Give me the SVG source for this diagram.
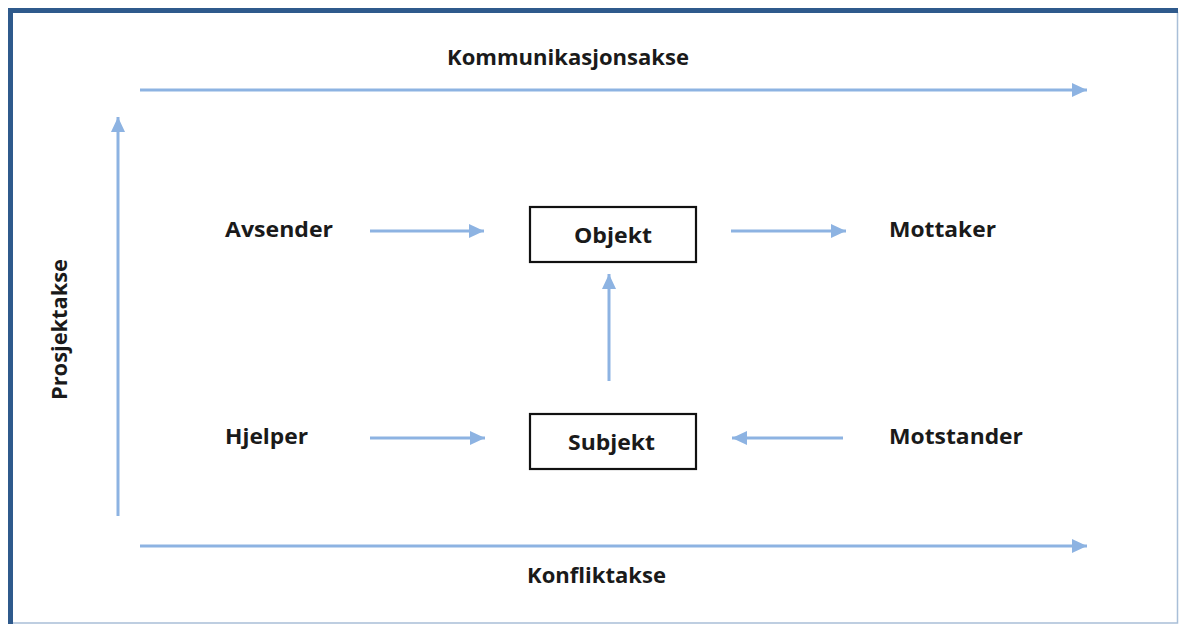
<svg xmlns="http://www.w3.org/2000/svg" width="1181" height="624" viewBox="0 0 1181 624">
<style>
.lbl{font-family:"Open Sans","Noto Sans",sans-serif;font-weight:bold;font-size:21px;fill:#1a1a1a}
.ax{stroke:#8db3e2;stroke-width:3;fill:none}
.box{fill:#fff;stroke:#111;stroke-width:2.2}
</style>
<defs>
<marker id="ah" markerUnits="userSpaceOnUse" markerWidth="16" markerHeight="16" refX="15" refY="8" orient="auto">
<path d="M0,1 L15,8 L0,15 Z" fill="#8db3e2"/>
</marker>
</defs>
<rect x="0" y="0" width="1181" height="624" fill="#fff"/>
<g id="frame">
<polyline points="1177.5,12 1177.5,623 12,623" fill="none" stroke="#a9bfd8" stroke-width="1.5"/>
<polyline points="10.5,624 10.5,10.5 1178,10.5" fill="none" stroke="#2f5a8c" stroke-width="5"/>
</g>
<g id="connectors">
<line class="ax" x1="140" y1="90" x2="1087" y2="90" marker-end="url(#ah)"/>
<line class="ax" x1="140" y1="546" x2="1087" y2="546" marker-end="url(#ah)"/>
<line class="ax" x1="118" y1="516" x2="118" y2="117" marker-end="url(#ah)"/>
<line class="ax" x1="370" y1="231" x2="484" y2="231" marker-end="url(#ah)"/>
<line class="ax" x1="731" y1="231" x2="846" y2="231" marker-end="url(#ah)"/>
<line class="ax" x1="609" y1="381" x2="609" y2="274" marker-end="url(#ah)"/>
<line class="ax" x1="370" y1="438" x2="485" y2="438" marker-end="url(#ah)"/>
<line class="ax" x1="843" y1="438" x2="732" y2="438" marker-end="url(#ah)"/>
</g>
<g id="axis-communication"><text class="lbl" x="447" y="65" textLength="242" lengthAdjust="spacingAndGlyphs">Kommunikasjonsakse</text></g>
<g id="axis-conflict"><text class="lbl" x="527" y="583" textLength="139" lengthAdjust="spacingAndGlyphs">Konfliktakse</text></g>
<g id="axis-project"><text class="lbl" transform="translate(67,400) rotate(-90)" x="0" y="0" textLength="141" lengthAdjust="spacingAndGlyphs">Prosjektakse</text></g>
<g id="avsender"><text class="lbl" x="225" y="237" textLength="108" lengthAdjust="spacingAndGlyphs">Avsender</text></g>
<g id="mottaker"><text class="lbl" x="889" y="237" textLength="107" lengthAdjust="spacingAndGlyphs">Mottaker</text></g>
<g id="hjelper"><text class="lbl" x="225" y="444" textLength="83" lengthAdjust="spacingAndGlyphs">Hjelper</text></g>
<g id="motstander"><text class="lbl" x="889" y="444" textLength="134" lengthAdjust="spacingAndGlyphs">Motstander</text></g>
<g id="objekt">
<rect class="box" x="530" y="207" width="166" height="55"/>
<text class="lbl" x="574" y="243" textLength="78" lengthAdjust="spacingAndGlyphs">Objekt</text>
</g>
<g id="subjekt">
<rect class="box" x="530" y="414" width="166" height="55"/>
<text class="lbl" x="568" y="450" textLength="87" lengthAdjust="spacingAndGlyphs">Subjekt</text>
</g>
</svg>
